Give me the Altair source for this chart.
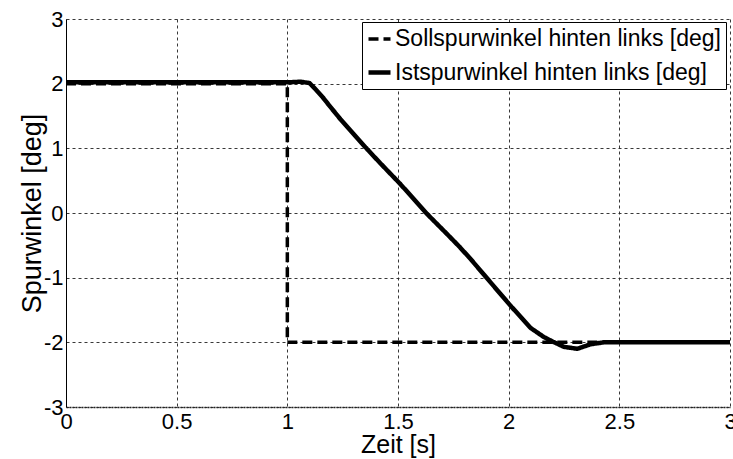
import altair as alt
import pandas as pd

series_names = ["Sollspurwinkel hinten links [deg]", "Istspurwinkel hinten links [deg]"]

soll_t = [0.0, 1.0, 1.0, 3.0]
soll_v = [2.0, 2.0, -2.0, -2.0]

ist_t = [0.0, 0.5, 1.0, 1.06, 1.10, 1.12, 1.16, 1.19, 1.24, 1.36, 1.42, 1.51, 1.63,
         1.72, 1.78, 1.83, 1.89, 2.01, 2.10, 2.16, 2.20, 2.25, 2.31, 2.37, 2.43, 2.7, 3.0]
ist_v = [2.02, 2.02, 2.02, 2.03, 2.01, 1.94, 1.79, 1.66, 1.45, 0.99, 0.77, 0.45, -0.01,
         -0.32, -0.53, -0.72, -0.96, -1.44, -1.78, -1.92, -1.99, -2.07, -2.10, -2.03, -2.00, -2.00, -2.00]

x_ticks = [0, 0.5, 1, 1.5, 2, 2.5, 3]
y_ticks = [-3, -2, -1, 0, 1, 2, 3]

rows = []
for i, (t, v) in enumerate(zip(soll_t, soll_v)):
    rows.append({"t": t, "v": v, "s": series_names[0], "i": i})
for i, (t, v) in enumerate(zip(ist_t, ist_v)):
    rows.append({"t": t, "v": v, "s": series_names[1], "i": i})
df = pd.DataFrame(rows)

FONT = "Liberation Sans"

chart = alt.Chart(df).mark_line(color="black", clip=True).encode(
    x=alt.X("t:Q", scale=alt.Scale(domain=[0, 3], nice=False, zero=False),
            axis=alt.Axis(values=x_ticks, title="Zeit [s]", labelFontSize=22,
                          labelExpr="'' + datum.value",
                          labelPadding=4, ticks=False, labelFlush=False,
                          titleFontSize=25, titleY=45, titleBaseline="alphabetic",
                          domainColor="#222", domainDash=[2, 1], domainWidth=1.5)),
    y=alt.Y("v:Q", scale=alt.Scale(domain=[-3, 3], nice=False, zero=False),
            axis=alt.Axis(values=y_ticks, title="Spurwinkel [deg]", labelFontSize=22,
                          labelExpr="'' + datum.value",
                          labelPadding=3, ticks=False, labelFlush=False,
                          titleFontSize=27, titleX=-26, titleY=194,
                          titleBaseline="alphabetic", titleAngle=270,
                          domainColor="black", domainWidth=1)),
    strokeDash=alt.StrokeDash("s:N",
                              scale=alt.Scale(domain=series_names, range=[[10, 5], [1, 0]]),
                              legend=alt.Legend(title=None, orient="none", legendX=296, legendY=3,
                                                fillColor="white", strokeColor="black",
                                                padding=4, labelFontSize=23, labelFont=FONT,
                                                symbolType="stroke", symbolSize=484,
                                                symbolStrokeWidth=4, symbolStrokeColor="black",
                                                rowPadding=8, labelOffset=2, labelLimit=0,
                                                labelColor="black")),
    strokeWidth=alt.StrokeWidth("s:N", scale=alt.Scale(domain=series_names, range=[3.5, 4.5]),
                                legend=None),
    order=alt.Order("i:Q"),
).properties(
    width=664, height=388,
    background="white",
    autosize=alt.AutoSizeParams(type="none"),
    padding={"left": 66, "top": 19, "right": 3, "bottom": 52},
).configure_view(stroke=None).configure_axis(
    labelFont=FONT, titleFont=FONT, labelColor="black", titleColor="black",
    titleFontWeight="normal", grid=True, gridColor="#222", gridDash=[3, 3], gridWidth=1,
    gridOpacity=0.9,
)

chart.save("out.html", embed_options={"renderer": "svg", "actions": False})
